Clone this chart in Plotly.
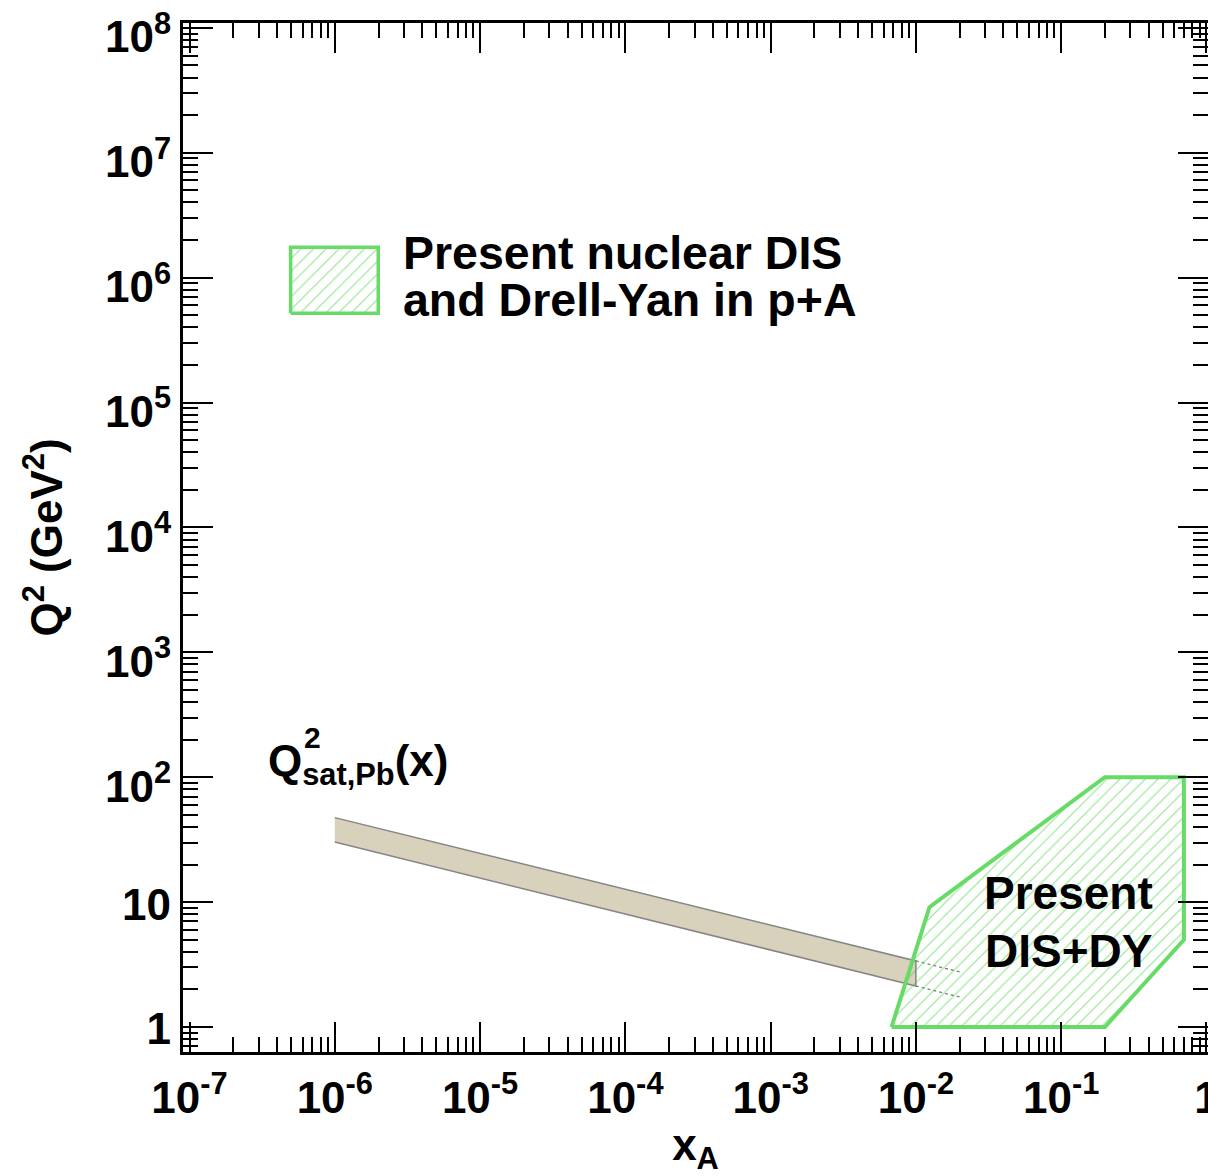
import plotly.graph_objects as go

# ---------------- data ----------------
x_major_vals = [1e-7, 1e-6, 1e-5, 1e-4, 1e-3, 1e-2, 1e-1, 1]
x_major_text = ["10<sup>-7</sup>", "10<sup>-6</sup>", "10<sup>-5</sup>", "10<sup>-4</sup>",
                "10<sup>-3</sup>", "10<sup>-2</sup>", "10<sup>-1</sup>", "1"]
y_major_vals = [1, 10, 1e2, 1e3, 1e4, 1e5, 1e6, 1e7, 1e8]
y_major_text = ["", "", "10<sup>2</sup>", "10<sup>3</sup>", "10<sup>4</sup>",
                "10<sup>5</sup>", "10<sup>6</sup>", "10<sup>7</sup>", "10<sup>8</sup>"]
y_plain_vals = [1, 10]
y_plain_text = ["1", "10"]
minor_mult = [2, 3, 4, 5, 6, 7, 8, 9]
x_minor_vals = [m * 10.0 ** e for e in range(-8, 1) for m in minor_mult]
y_minor_vals = [m * 10.0 ** e for e in range(-1, 9) for m in minor_mult]

# Present nuclear DIS + Drell-Yan region
dis_x = [0.0068, 0.0124, 0.2, 0.7, 0.7, 0.2, 0.0068]
dis_q2 = [1.0, 9.1, 100.0, 100.0, 5.0, 1.0, 1.0]

# Saturation scale band Q^2_sat,Pb(x)
sat_x = [1e-6, 1e-2]
sat_upper = [47.5, 3.38]
sat_lower = [30.3, 2.13]
# dotted extension of the band
ext_x = [1e-2, 2e-2]
ext_upper = [3.38, 2.76]
ext_lower = [2.13, 1.74]

# ---------------- style ----------------
FONT = "Liberation Sans, Arial, Helvetica, sans-serif"
GREEN_LINE = "#66DB66"
GREEN_HATCH = "#22CC22"
BAND_FILL = "#D8D2BC"
BAND_LINE = "#858585"
X_RANGE = [-7.045, 0.011]
Y_RANGE = [-0.2, 8.039]

fig = go.Figure()

fig.add_trace(go.Scatter(
    x=sat_x + sat_x[::-1], y=sat_upper + sat_lower[::-1],
    fill="toself", fillcolor=BAND_FILL, mode="lines",
    line=dict(color=BAND_LINE, width=1.5), showlegend=False, hoverinfo="skip"))
for ys in (ext_upper, ext_lower):
    fig.add_trace(go.Scatter(
        x=ext_x, y=ys, mode="lines",
        line=dict(color="#808080", width=1.3, dash="dot"),
        showlegend=False, hoverinfo="skip"))

hatch = dict(shape="/", fgcolor=GREEN_HATCH, bgcolor="rgba(0,0,0,0)",
             size=9, solidity=0.13)

fig.add_trace(go.Scatter(
    x=dis_x, y=dis_q2, fill="toself", fillcolor="rgba(0,0,0,0)", mode="lines",
    fillpattern=hatch,
    line=dict(color=GREEN_LINE, width=4), showlegend=False, hoverinfo="skip"))

# legend key box (paper-like overlay axes)
key_x = [0.105, 0.1905, 0.1905, 0.105, 0.105]
key_y = [0.718, 0.718, 0.782, 0.782, 0.718]
fig.add_trace(go.Scatter(
    x=key_x, y=key_y, xaxis="x3", yaxis="y3", fill="toself",
    fillcolor="rgba(0,0,0,0)", mode="lines",
    fillpattern=hatch,
    line=dict(color=GREEN_LINE, width=3.5), showlegend=False, hoverinfo="skip"))

# empty trace to attach the plain-label y axis
fig.add_trace(go.Scatter(x=[], y=[], yaxis="y4", showlegend=False, hoverinfo="skip"))

tickfont = dict(family=FONT, size=44, color="black", weight="bold")
common = dict(type="log", showgrid=False, zeroline=False, showline=True,
              linecolor="black", linewidth=3, mirror="ticks", ticks="inside",
              ticklen=30, tickwidth=2, tickcolor="black", tickfont=tickfont,
              tickmode="array", ticklabeloverflow="allow", automargin=False)

fig.update_layout(
    width=1208, height=1176,
    margin=dict(l=183, r=0, t=23, b=124, autoexpand=False),
    paper_bgcolor="white", plot_bgcolor="white",
    showlegend=False,
    xaxis=dict(range=X_RANGE, tickvals=x_major_vals, ticktext=x_major_text,
               ticklabelstandoff=5,
               minor=dict(tickmode="array", tickvals=x_minor_vals, ticks="inside",
                          ticklen=15, tickwidth=2, tickcolor="black", showgrid=False),
               title=dict(text="x<sub>A</sub>", font=dict(family=FONT, size=44, color="black", weight="bold"),
                          standoff=14),
               **common),
    yaxis=dict(range=Y_RANGE, tickvals=y_major_vals, ticktext=y_major_text,
               ticklabelshift=9,
               minor=dict(tickmode="array", tickvals=y_minor_vals, ticks="inside",
                          ticklen=15, tickwidth=2, tickcolor="black", showgrid=False),
               title=dict(text="Q<sup>2</sup> (GeV<sup>2</sup>)",
                          font=dict(family=FONT, size=44, color="black", weight="bold"),
                          standoff=29),
               **common),
    yaxis4=dict(type="log", overlaying="y", anchor="x", side="left", range=Y_RANGE,
                tickmode="array", tickvals=y_plain_vals, ticktext=y_plain_text,
                ticks="", showline=False, showgrid=False, zeroline=False,
                tickfont=tickfont, ticklabelshift=2, ticklabelstandoff=11,
                ticklabeloverflow="allow", automargin=False),
    xaxis3=dict(overlaying="x", range=[0, 1], visible=False, anchor="y3"),
    yaxis3=dict(overlaying="y", range=[0, 1], visible=False, anchor="x3"),
)

afont = dict(family=FONT, size=46.5, color="black", weight="bold")
annotations = [
    dict(text="Present nuclear DIS", x=0.2125, y=0.776),
    dict(text="and Drell-Yan in p+A", x=0.2125, y=0.7305),
]
for a in annotations:
    fig.add_annotation(xref="paper", yref="paper", xanchor="left", yanchor="middle",
                       showarrow=False, font=afont, **a)
dfont = dict(family=FONT, size=46, color="black", weight="bold")
for txt, yy in (("Present", 0.155), ("DIS+DY", 0.098)):
    fig.add_annotation(text=txt, xref="paper", yref="paper", x=0.8635, y=yy,
                       xanchor="center", yanchor="middle", showarrow=False, font=dfont)

qfont = dict(family=FONT, size=44, color="black", weight="bold")
fig.add_annotation(text="Q<sub>sat,Pb</sub>(x)", xref="paper", yref="paper",
                   x=0.0805, y=0.280, xanchor="left", yanchor="middle",
                   showarrow=False, font=qfont)
fig.add_annotation(text="2", xref="paper", yref="paper",
                   x=0.1165, y=0.306, xanchor="left", yanchor="middle",
                   showarrow=False, font=dict(family=FONT, size=30, color="black", weight="bold"))

fig.write_html("out.html")
